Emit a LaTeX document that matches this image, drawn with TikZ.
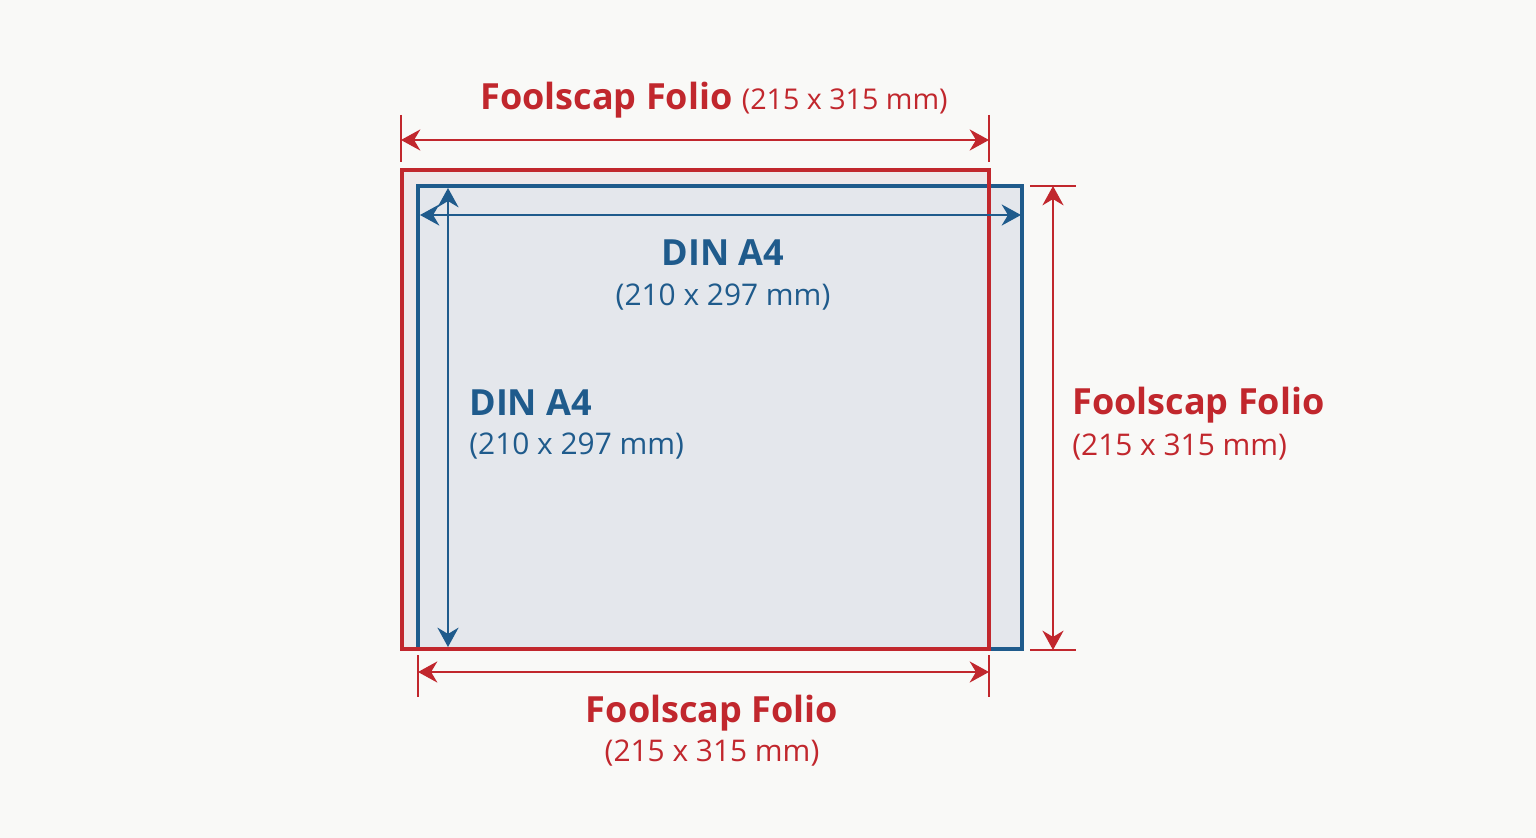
\documentclass[tikz,border=0pt]{standalone}
\usepackage{fontspec}
\setmainfont{Open Sans}
\usetikzlibrary{arrows.meta}
\definecolor{foliored}{HTML}{C1272D}
\definecolor{dinablue}{HTML}{1F5B8C}
\definecolor{sheetgray}{HTML}{E4E7EC}
\definecolor{sheetpink}{HTML}{EEE8EA}
\definecolor{paper}{HTML}{F9F9F7}
\begin{document}
\begin{tikzpicture}[x=0.02cm,y=-0.02cm,
    dim/.style={line width=1.3pt,{Stealth[length=11pt,width=12pt]}-{Stealth[length=11pt,width=12pt]}},
    tick/.style={line width=1.3pt,foliored},
    title/.style={anchor=base,font=\fontsize{20.5}{24}\selectfont\bfseries,inner sep=0pt},
    size/.style={anchor=base,font=\fontsize{17}{20}\selectfont,inner sep=0pt}]
  \fill[paper] (0,0) rectangle (1536,838);
  \useasboundingbox (0,0) rectangle (1536,838);
  % sheets
  \fill[sheetpink] (401,169) rectangle (990,650);
  \fill[sheetgray] (417,185) rectangle (1023,650);
  \draw[dinablue,line width=2.2pt] (418,186) rectangle (1022,649);
  \draw[foliored,line width=2.2pt] (402,170) rectangle (989,649);
  % DIN A4 dimensions
  \coordinate (aw1) at (420,215);
  \coordinate (aw2) at (1021,215);
  \coordinate (ah1) at (448,188);
  \coordinate (ah2) at (448,647);
  \draw[dim,dinablue] (aw1) -- (aw2);
  \draw[dim,dinablue] (ah1) -- (ah2);
  % Foolscap dimensions
  \coordinate (tw1) at (401,140);
  \coordinate (tw2) at (989,140);
  \coordinate (bw1) at (418,672);
  \coordinate (bw2) at (989,672);
  \coordinate (rh1) at (1053,186);
  \coordinate (rh2) at (1053,650);
  \draw[tick] (401,115) -- (401,162) (989,115) -- (989,162);
  \draw[tick] (418,655) -- (418,697) (989,655) -- (989,697);
  \draw[tick] (1030,186) -- (1076,186) (1030,650) -- (1076,650);
  \draw[dim,foliored] (tw1) -- (tw2);
  \draw[dim,foliored] (bw1) -- (bw2);
  \draw[dim,foliored] (rh1) -- (rh2);
  % labels
  \node[title,foliored] (toplabel) at (714,110)
    {Foolscap Folio {\mdseries\fontsize{16.3}{19}\selectfont(215 x 315 mm)}};
  \node[title,dinablue] (a4title) at (723,265) {DIN A4};
  \node[size,dinablue] (a4size) at (723,305) {(210 x 297 mm)};
  \node[title,dinablue,anchor=base west] (a4ltitle) at (469,415) {DIN A4};
  \node[size,dinablue,anchor=base west] (a4lsize) at (469,454) {(210 x 297 mm)};
  \node[title,foliored,anchor=base west] (rtitle) at (1072,414) {Foolscap Folio};
  \node[size,foliored,anchor=base west] (rsize) at (1072,455) {(215 x 315 mm)};
  \node[title,foliored] (btitle) at (712,722) {Foolscap Folio};
  \node[size,foliored] (bsize) at (712,761) {(215 x 315 mm)};
\end{tikzpicture}
\end{document}
